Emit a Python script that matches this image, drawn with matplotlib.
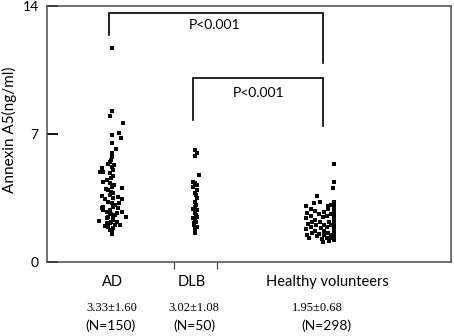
import matplotlib
matplotlib.use("Agg")
import matplotlib.pyplot as plt
import numpy as np
from matplotlib.transforms import blended_transform_factory

# ---------------- data ----------------
groups = ["AD", "DLB", "Healthy volunteers"]
stats = ["3.33\u00b11.60", "3.02\u00b11.08", "1.95\u00b10.68"]
counts = ["(N=150)", "(N=50)", "(N=298)"]
group_pos = [1.0, 2.0, 3.54]

ad_values = [11.69, 8.28, 7.98, 7.58, 7.04, 6.95, 6.80, 6.49, 6.18, 5.94, 5.72, 5.49,
             5.36, 5.21, 5.12, 5.03, 4.94, 4.94, 4.85, 4.70, 4.48, 4.39, 4.30, 4.12,
             4.03, 3.94, 3.76, 3.66, 3.57, 3.46, 3.43, 3.30, 3.21, 3.03, 3.03, 2.93,
             2.93, 2.84, 2.84, 2.75, 2.75, 2.70, 2.66, 2.57, 2.48, 2.48, 2.39, 2.30,
             2.26, 2.21, 2.11, 2.11, 2.02, 1.97, 1.93, 1.84, 1.66, 1.53,
             5.60, 5.30, 4.60, 4.20, 3.85, 3.50, 3.10, 2.60, 2.40, 2.20, 1.75, 4.00,
             3.60, 3.20, 2.00]
ad_jitter = [0.00, 0.00, -0.02, 0.13, 0.08, 0.00, 0.11, 0.00, 0.05, 0.00, 0.00, -0.02,
             -0.05, 0.00, -0.12, 0.01, -0.11, -0.14, -0.02, 0.01, -0.06, -0.11, -0.02, 0.00,
             0.12, -0.05, 0.01, -0.02, 0.07, 0.12, -0.08, -0.05, 0.00, 0.01, -0.11, -0.12,
             0.07, -0.02, -0.11, -0.06, 0.12, 0.06, -0.02, 0.04, 0.17, -0.05, -0.06, 0.01,
             -0.16, 0.06, -0.02, -0.06, 0.04, -0.08, -0.05, 0.01, 0.00, 0.00,
             -0.01, 0.02, -0.01, 0.02, -0.01, 0.01, 0.04, -0.01, 0.01, -0.01, -0.02, -0.07,
             -0.12, 0.08, 0.10]

dlb_values = [6.13, 5.94, 5.80, 4.76, 4.39, 4.30, 4.21, 4.08, 3.94, 3.80, 3.66, 3.48,
              3.30, 3.12, 3.00, 2.88, 2.84, 2.75, 2.66, 2.57, 2.48, 2.39, 2.30, 2.21,
              2.11, 2.02, 1.93, 1.80, 1.66, 1.58]
dlb_jitter = [0.00, 0.02, 0.00, 0.05, -0.02, 0.00, 0.02, -0.02, 0.02, 0.00, 0.01, 0.02,
              0.00, 0.01, 0.00, -0.02, 0.02, 0.00, 0.00, 0.01, 0.02, -0.02, 0.00, 0.01,
              -0.01, -0.01, 0.02, 0.00, 0.00, 0.00]

hv_values = [5.34, 4.39, 4.03, 3.61, 3.30, 3.24, 3.06, 3.06,
             3.30, 3.15, 3.00, 2.85, 2.70, 2.55, 2.40, 2.25, 2.10, 1.95, 1.80, 1.65, 1.50, 1.35, 1.20,
             3.10, 2.60, 2.00, 1.50, 1.30,
             2.90, 2.50, 2.20, 1.90, 1.60, 1.30, 1.15,
             2.70, 2.40, 2.10, 1.80, 1.50, 1.30, 2.90, 2.50, 2.20, 1.90, 1.60, 2.80, 2.30,
             2.00, 1.70, 1.40, 2.60, 2.20, 1.85, 1.55, 1.25, 2.45, 2.00, 1.70, 2.75, 1.45,
             1.11]
hv_jitter = [0.13, 0.13, 0.12, -0.07, -0.04, -0.11, -0.20, 0.06,
             0.13, 0.13, 0.13, 0.13, 0.13, 0.13, 0.13, 0.13, 0.13, 0.13, 0.13, 0.13, 0.13, 0.13, 0.13,
             0.10, 0.10, 0.10, 0.10, 0.10,
             0.06, 0.05, 0.07, 0.05, 0.06, 0.05, 0.07,
             -0.19, -0.20, -0.18, -0.20, -0.19, -0.17, -0.14, -0.14, -0.13, -0.14, -0.13, -0.10, -0.10,
             -0.08, -0.10, -0.07, -0.05, -0.04, -0.02, -0.05, -0.01, 0.00, 0.01, 0.02, 0.01, 0.01,
             0.00]

series_values = [ad_values, dlb_values, hv_values]
series_jitter = [ad_jitter, dlb_jitter, hv_jitter]

# ---------------- figure ----------------
fig = plt.figure(figsize=(4.54, 3.36), dpi=100)
ax = fig.add_axes([47 / 454, 74 / 336, 404 / 454, 256 / 336])

for pos, vals, jit in zip(group_pos, series_values, series_jitter):
    ax.plot(pos + np.asarray(jit), vals, linestyle="none", marker="s",
            markersize=3.5, color="black", markeredgewidth=0)

ax.set_xlim(0.217, 5.084)
ax.set_ylim(0, 14)

frame_color = "#4a4a4a"
for s in ax.spines.values():
    s.set_color(frame_color)
    s.set_linewidth(1.1)

lab_font = "Lato"
ax.set_yticks([0, 7, 14])
ax.set_yticklabels(["0", "7", "14"], fontsize=10, family=lab_font)
ax.tick_params(axis="y", direction="in", length=8, width=1.3, color="black", pad=6)
ax.set_xticks([1.747, 2.265])
ax.set_xticklabels([])
ax.tick_params(axis="x", direction="out", length=5, width=0.9, color=frame_color)

ax.set_ylabel("Annexin A5(ng/ml)", fontsize=11, family=lab_font)
ax.yaxis.set_label_coords(-0.074, 0.516)

# significance brackets
lc = "black"
lw = 1.2
ax.plot([group_pos[0] - 0.04, group_pos[0] - 0.04, group_pos[2], group_pos[2]],
        [12.41, 13.62, 13.62, 10.88], color=lc, lw=lw, solid_joinstyle="miter")
ax.text(2.24, 12.96, "P<0.001", ha="center", va="center", fontsize=10, family=lab_font)
ax.plot([group_pos[1] - 0.02, group_pos[1] - 0.02, group_pos[2], group_pos[2]],
        [7.77, 10.06, 10.06, 7.44], color=lc, lw=lw, solid_joinstyle="miter")
ax.text(2.76, 9.24, "P<0.001", ha="center", va="center", fontsize=10, family=lab_font)

# group labels below the axis
trans = blended_transform_factory(ax.transData, ax.transAxes)
name_dx = [0.01, -0.04, 0.05]
stat_dx = [0.0, -0.01, -0.06]
n_dx = [-0.02, -0.01, 0.04]
for pos, name, st, n, a, b, c in zip(group_pos, groups, stats, counts, name_dx, stat_dx, n_dx):
    ax.text(pos + a, -0.078, name, transform=trans, ha="center", va="center",
            fontsize=10.5, family=lab_font)
    ax.text(pos + b, -0.18, st, transform=trans, ha="center", va="center",
            fontsize=9, family="Liberation Serif")
    ax.text(pos + c, -0.25, n, transform=trans, ha="center", va="center",
            fontsize=10, family=lab_font)

fig.savefig("out.png", dpi=100)
